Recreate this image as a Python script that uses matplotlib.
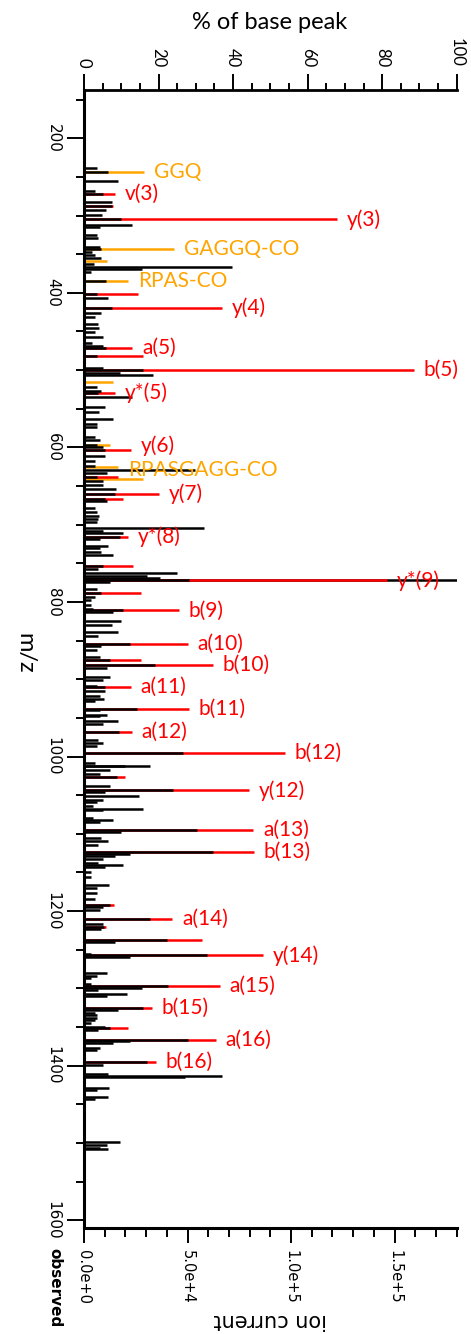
import matplotlib.pyplot as plt
from matplotlib.ticker import MultipleLocator, FixedLocator

BASE_PEAK = 180000  # ion current of the tallest peak (100 %)

# observed (unmatched) peaks: m/z and % of base peak
obs_mz = [238.8, 243.2, 255.2, 268.2, 272.4, 282.4, 287.2, 292.7, 299.2, 304.8,
          312.1, 314.3, 325.1, 329.3, 340.2, 343.2, 346.7, 350.9, 355.2, 363.0,
          366.1, 368.6, 372.5, 384.2, 401.4, 406.9, 419.1, 426.3, 430.7, 440.2,
          445.7, 450.1, 456.6, 465.1, 468.6, 470.8, 481.6, 497.5, 499.7, 503.2,
          506.2, 522.1, 526.4, 529.8, 534.2, 547.1, 553.6, 563.0, 569.5, 573.0,
          586.7, 590.2, 597.0, 598.9, 603.1, 610.9, 618.2, 624.7, 629.0, 632.5,
          637.7, 644.1, 648.4, 653.6, 660.4, 666.5, 670.0, 678.5, 684.2, 688.5,
          692.4, 697.1, 704.9, 707.9, 710.9, 715.3, 718.6, 727.3, 730.2, 735.9,
          738.9, 754.0, 757.4, 762.6, 766.1, 769.1, 772.2, 772.2, 774.7, 783.3,
          788.5, 793.6, 797.1, 803.6, 809.1, 811.0, 813.5, 825.2, 829.4, 838.9,
          844.6, 854.0, 857.5, 861.8, 871.2, 875.6, 881.6, 885.4, 897.1, 900.6,
          909.2, 910.5, 915.7, 921.3, 925.5, 928.6, 938.5, 940.3, 945.8, 948.0,
          953.6, 957.5, 967.8, 978.2, 982.4, 986.8, 995.4, 1008.3, 1011.8, 1012.7,
          1017.0, 1022.2, 1026.4, 1038.6, 1043.7, 1046.3, 1051.5, 1056.7, 1058.8, 1063.6,
          1067.4, 1068.7, 1079.4, 1082.5, 1085.1, 1095.5, 1098.1, 1105.3, 1109.7, 1114.0,
          1123.4, 1125.6, 1129.1, 1132.1, 1137.6, 1140.7, 1143.3, 1149.8, 1155.7, 1165.7,
          1170.0, 1176.5, 1183.8, 1192.5, 1194.6, 1198.1, 1210.1, 1216.2, 1220.4, 1223.0,
          1237.7, 1240.3, 1254.9, 1257.1, 1259.2, 1279.9, 1283.4, 1286.4, 1293.7, 1296.3,
          1299.3, 1301.5, 1306.7, 1309.3, 1325.2, 1328.3, 1331.6, 1335.1, 1338.1, 1340.3,
          1344.6, 1349.8, 1351.1, 1354.2, 1367.1, 1368.4, 1370.5, 1377.0, 1380.1, 1395.6,
          1398.6, 1410.6, 1412.8, 1414.5, 1428.7, 1430.9, 1440.3, 1442.9, 1498.8, 1503.1,
          1506.1, 1508.3]
obs_pct = [3.5, 6.4, 9.1, 3.0, 5.0, 7.4, 7.4, 5.8, 4.8, 9.9,
           13.0, 4.3, 3.5, 3.8, 4.3, 4.5, 2.1, 3.0, 4.5, 2.8,
           39.6, 15.5, 2.0, 5.8, 3.4, 6.5, 7.4, 4.5, 3.0, 3.8,
           4.1, 3.0, 5.0, 2.1, 5.2, 5.9, 3.4, 5.0, 15.9, 9.7,
           18.6, 3.4, 4.5, 3.8, 13.0, 5.6, 4.1, 7.7, 3.6, 3.4,
           3.0, 4.3, 3.4, 5.2, 5.6, 5.6, 3.0, 3.0, 29.8, 6.1,
           3.4, 5.2, 5.0, 8.6, 8.3, 5.6, 6.1, 3.0, 3.4, 4.1,
           3.8, 3.6, 32.3, 5.0, 10.4, 9.7, 4.3, 6.5, 4.3, 4.7,
           7.9, 5.2, 3.8, 24.9, 16.8, 20.4, 100.0, 28.3, 7.0, 3.4,
           4.7, 3.0, 2.0, 2.0, 2.5, 10.6, 7.9, 9.9, 7.4, 9.2,
           3.8, 12.3, 4.7, 3.4, 4.3, 7.0, 19.1, 6.1, 7.0, 5.2,
           3.4, 5.6, 5.6, 4.3, 5.4, 3.0, 14.1, 4.3, 6.1, 4.3,
           9.2, 5.2, 9.5, 3.8, 5.0, 3.6, 26.5, 3.0, 11.0, 17.7,
           7.0, 4.3, 8.8, 7.0, 24.0, 5.6, 14.8, 5.0, 3.4, 2.5,
           15.7, 5.0, 2.4, 7.7, 4.3, 30.2, 9.9, 4.7, 6.5, 3.8,
           34.7, 12.3, 8.3, 5.0, 3.8, 10.6, 5.6, 2.0, 2.0, 6.8,
           3.4, 3.6, 3.0, 7.0, 5.2, 4.3, 17.7, 5.0, 5.5, 4.7,
           22.2, 8.3, 2.0, 32.9, 12.3, 6.1, 3.4, 2.0, 2.0, 22.6,
           15.5, 3.8, 11.5, 6.1, 15.9, 9.2, 3.0, 3.4, 3.6, 3.0,
           2.0, 5.6, 7.0, 3.8, 28.0, 12.3, 7.9, 4.3, 3.4, 16.8,
           5.0, 6.5, 36.9, 27.0, 6.8, 3.4, 6.5, 3.0, 9.7, 6.1,
           4.3, 6.5]

# matched peaks: m/z, % of base peak, ion type ('frag' red, 'int' orange), label
match_mz = [243.2, 272.4, 287.2, 304.8, 343.2, 358.3, 384.2, 401.4, 419.1, 470.8,
            481.6, 499.7, 515.6, 529.8, 597.0, 603.1, 625.5, 637.7, 640.6, 660.4,
            666.5, 715.3, 754.1, 772.2, 788.5, 811.0, 854.0, 875.6, 881.6, 910.5,
            938.5, 967.8, 995.4, 1026.4, 1043.7, 1095.5, 1123.4, 1192.5, 1210.1, 1220.9,
            1237.7, 1257.1, 1296.3, 1325.2, 1351.0, 1367.1, 1395.5]
match_pct = [16.2, 8.3, 7.8, 67.9, 24.1, 6.1, 11.9, 14.4, 37.1, 13.0,
             15.7, 88.5, 7.9, 8.3, 7.0, 12.6, 9.2, 9.0, 15.9, 20.1,
             10.4, 11.7, 13.1, 81.3, 15.2, 25.5, 27.8, 15.2, 34.5, 12.5,
             28.2, 12.8, 53.9, 11.0, 44.3, 45.4, 45.6, 8.1, 23.7, 5.8,
             31.7, 48.1, 36.5, 18.2, 11.7, 35.3, 19.2]
match_type = ['int', 'frag', 'frag', 'frag', 'int', 'int', 'int', 'frag', 'frag', 'frag',
              'frag', 'frag', 'int', 'frag', 'int', 'frag', 'int', 'frag', 'int', 'frag',
              'frag', 'frag', 'frag', 'frag', 'frag', 'frag', 'frag', 'frag', 'frag', 'frag',
              'frag', 'frag', 'frag', 'frag', 'frag', 'frag', 'frag', 'frag', 'frag', 'frag',
              'frag', 'frag', 'frag', 'frag', 'frag', 'frag', 'frag']
match_label = ['GGQ', 'v(3)', '', 'y(3)', 'GAGGQ-CO', '', 'RPAS-CO', '', 'y(4)', 'a(5)',
               '', 'b(5)', '', 'y*(5)', '', 'y(6)', 'RPASGAGG-CO', '', '', 'y(7)',
               '', 'y*(8)', '', 'y*(9)', '', 'b(9)', 'a(10)', '', 'b(10)', 'a(11)',
               'b(11)', 'a(12)', 'b(12)', '', 'y(12)', 'a(13)', 'b(13)', '', 'a(14)', '',
               '', 'y(14)', 'a(15)', 'b(15)', '', 'a(16)', 'b(16)']

mz_ticks = [200, 400, 600, 800, 1000, 1200, 1400, 1600]
current_ticks = [0, 50000, 100000, 150000]
current_labels = ['0.0e+0', '5.0e+4', '1.0e+5', '1.5e+5']
pct_ticks = [0, 20, 40, 60, 80, 100]

COLORS = {'obs': 'black', 'frag': '#ff0000', 'int': '#ffa500'}
LABEL_FONT = 'Lato'
# small vertical nudges (points) for labels that crowd each other
NUDGE = {'y(6)': 3, 'RPASGAGG-CO': -2}

fig = plt.figure(figsize=(4.71, 13.34), dpi=100)
ax = fig.add_axes([0.1783, 0.0795, 0.7914, 0.853])

# draw tall peaks first so shorter ones sit on top
peaks = [(m, p, COLORS['obs']) for m, p in zip(obs_mz, obs_pct)]
peaks += [(m, p, COLORS[t]) for m, p, t in zip(match_mz, match_pct, match_type)]
peaks.sort(key=lambda pk: -pk[1])
ax.hlines([pk[0] for pk in peaks], 0, [pk[1] * BASE_PEAK / 100 for pk in peaks],
          colors=[pk[2] for pk in peaks], linewidth=1.8)

for m, p, t, lab in zip(match_mz, match_pct, match_type, match_label):
    if lab:
        ax.annotate(lab, xy=(p * BASE_PEAK / 100, m), xytext=(7, NUDGE.get(lab, 0)),
                    textcoords='offset points', ha='left', va='center',
                    color=COLORS[t], fontsize=15, family=LABEL_FONT)

ax.set_xlim(0, BASE_PEAK)
ax.set_ylim(1610, 137.6)

ax.spines['right'].set_visible(False)
ax.spines['top'].set_visible(False)
ax.spines['left'].set_linewidth(2.2)
ax.spines['bottom'].set_linewidth(2.2)

ax.yaxis.set_major_locator(FixedLocator(mz_ticks))
ax.yaxis.set_minor_locator(MultipleLocator(50))
ax.set_yticklabels([str(t) for t in mz_ticks], rotation=-90, fontsize=11,
                   va='center', ha='right')
ax.xaxis.set_major_locator(FixedLocator(current_ticks))
ax.xaxis.set_minor_locator(MultipleLocator(10000))
ax.set_xticklabels(current_labels, rotation=-90, fontsize=10.5, va='top', ha='center')
ax.tick_params(axis='y', which='major', length=12.5, width=1.4, pad=4.3)
ax.tick_params(axis='y', which='minor', length=5.8, width=1.4)
ax.tick_params(axis='x', which='major', length=10.8, width=1.4, pad=5)
ax.tick_params(axis='x', which='minor', length=6.5, width=1.4)

top = ax.secondary_xaxis('top', functions=(lambda v: v / BASE_PEAK * 100,
                                          lambda p: p * BASE_PEAK / 100))
top.spines['top'].set_linewidth(2.0)
top.xaxis.set_major_locator(FixedLocator(pct_ticks))
top.xaxis.set_minor_locator(MultipleLocator(5))
top.set_xticklabels([str(t) for t in pct_ticks], rotation=-90, fontsize=12,
                    family=LABEL_FONT, va='bottom', ha='center')
top.tick_params(axis='x', which='major', length=11.5, width=1.4, pad=5)
top.tick_params(axis='x', which='minor', length=5, width=1.4)

fig.text(0.573, 0.9835, '% of base peak', fontsize=17, family=LABEL_FONT,
         ha='center', va='center')
fig.text(0.053, 0.5105, 'm/z', fontsize=17, family=LABEL_FONT, rotation=-90,
         ha='center', va='center')
fig.text(0.5743, 0.0105, 'ion current', fontsize=15, rotation=180,
         ha='center', va='center')
fig.text(0.1157, 0.0345, 'observed', fontsize=11, fontweight='bold', rotation=-90,
         ha='center', va='center')

fig.savefig('out.png', dpi=100)
